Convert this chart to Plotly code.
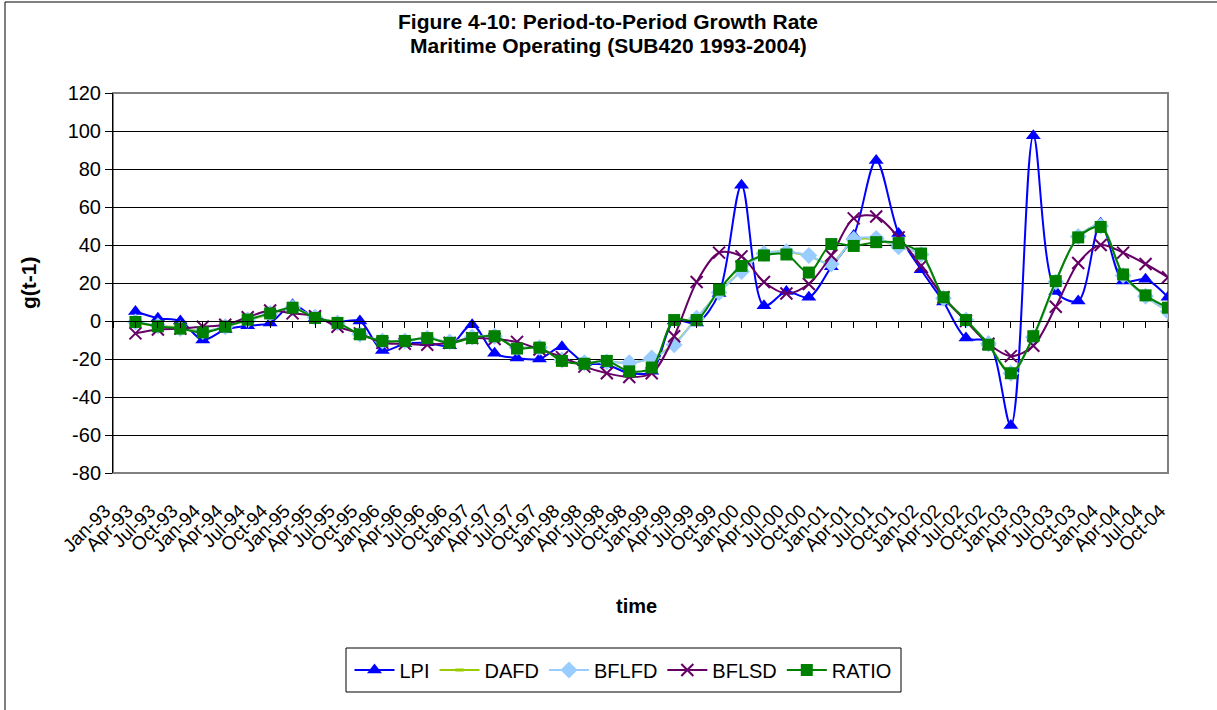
import plotly.graph_objects as go

# Quarter labels on the category axis
quarters = [
    "Jan-93", "Apr-93", "Jul-93", "Oct-93", "Jan-94", "Apr-94", "Jul-94", "Oct-94",
    "Jan-95", "Apr-95", "Jul-95", "Oct-95", "Jan-96", "Apr-96", "Jul-96", "Oct-96",
    "Jan-97", "Apr-97", "Jul-97", "Oct-97", "Jan-98", "Apr-98", "Jul-98", "Oct-98",
    "Jan-99", "Apr-99", "Jul-99", "Oct-99", "Jan-00", "Apr-00", "Jul-00", "Oct-00",
    "Jan-01", "Apr-01", "Jul-01", "Oct-01", "Jan-02", "Apr-02", "Jul-02", "Oct-02",
    "Jan-03", "Apr-03", "Jul-03", "Oct-03", "Jan-04", "Apr-04", "Jul-04", "Oct-04",
]

# Growth rates start one period after the first quarter (Apr-93 .. Oct-04)
lpi = [5, 1.5, 0, -10, -4.5, -2.5, -1, 8.5, 1.5, -0.5, 0, -15.5, -12, -11.5, -13,
       -2, -17, -19.5, -20, -13.5, -22, -23, -27.5, -26.5, 0, -1, 14.5, 71.5, 8,
       15.5, 12.5, 28.5, 45, 84.5, 46, 27, 10, -9, -11, -55, 97.5, 15.5, 10.5,
       51.5, 21, 22, 12.5]
dafd = [-1, -2.5, -3.5, -5.5, -3, 0.5, 3.5, 7, 2, -1, -7, -10.5, -10.5, -9, -11,
        -8.5, -8, -14, -14, -20.5, -22, -21.5, -22, -19.5, -12, 1.5, 15, 26.5,
        35.5, 36.5, 34, 30.5, 42.5, 43, 39, 35, 12, 0.5, -12, -27, -8.5, 20.5,
        44.5, 50, 24, 13, 5]
bflfd = [-0.5, -2.5, -4, -5.5, -3, 0.5, 4, 7, 2, -1, -7, -10.5, -10.5, -9, -11,
         -8.5, -8, -14, -14, -20.5, -22, -21.5, -22, -19.5, -12.5, 1.5, 15, 26,
         35.5, 36.5, 34.5, 30, 43, 43.5, 39, 35, 12, 0.5, -12, -27.5, -8.5, 20.5,
         44.5, 50, 24, 13, 5]
bflsd = [-6.5, -4.5, -4, -3, -2, 2, 5.5, 4, 2.5, -3, -6.5, -11.5, -12, -12.5,
         -11.5, -9, -9.5, -11, -15, -19, -24, -27.5, -29.5, -27.5, -8, 20.5, 36,
         34, 20.5, 14.5, 19.5, 34.5, 54, 55, 44, 29, 12.5, 0, -12, -18.5, -13,
         7.5, 30.5, 40, 36, 30, 23]
ratio = [-0.5, -2.8, -4, -6, -3, 0.7, 4, 7, 1.6, -1, -7, -10.5, -10.5, -9, -11.5,
         -9, -8, -14.5, -14, -21, -22.5, -21, -26.5, -24.5, 0.5, 0.5, 16.5, 29,
         34.5, 35, 25.5, 40.5, 39.5, 41.5, 41, 35.5, 12.5, 0.5, -12.5, -27.5, -8,
         21, 44, 49.5, 24.5, 13.5, 7]

y_ticks = list(range(-80, 121, 20))
y_tick_text = [str(v) for v in y_ticks]  # plain hyphen for negatives

FONT = "Liberation Sans, Arial, sans-serif"
W, H = 1217, 710
L, R, T, B = 113, 49, 93, 237
PW, PH = W - L - R, H - T - B


def px_x(px):
    return (px - L) / PW


def px_y(py):
    return (H - B - py) / PH


pos = list(range(len(quarters)))
data_pos = pos[1:]

series = [
    ("LPI", lpi, "#0000FF", dict(symbol="triangle-up", size=13, color="#0000FF")),
    ("DAFD", dafd, "#99CC00", dict(symbol="line-ew", size=6, color="#99CC00",
                                   line=dict(color="#99CC00", width=3))),
    ("BFLFD", bflfd, "#99CCFF", dict(symbol="diamond", size=13, color="#99CCFF")),
    ("BFLSD", bflsd, "#660066", dict(symbol="x-thin", size=12, color="#660066",
                                     line=dict(color="#660066", width=2))),
    ("RATIO", ratio, "#008000", dict(symbol="square", size=12, color="#008000")),
]

fig = go.Figure()
for name, vals, col, mk in series:
    fig.add_trace(go.Scatter(
        x=data_pos, y=vals, name=name, mode="lines+markers",
        line=dict(color=col, width=2, shape="spline", smoothing=0.9),
        marker=mk,
    ))

# axis line with tick marks along the zero value
fig.add_trace(go.Scatter(x=[0, 47], y=[0, 0], xaxis="x2", mode="lines",
                         line=dict(color="rgba(0,0,0,0)"), showlegend=False,
                         hoverinfo="skip"))

fig.update_layout(
    width=W, height=H,
    margin=dict(l=L, r=R, t=T, b=B),
    paper_bgcolor="white", plot_bgcolor="white",
    font=dict(family=FONT, color="black", size=18),
    showlegend=True,
    legend=dict(
        orientation="h", x=px_x(623), y=px_y(670), xanchor="center",
        yanchor="middle", borderwidth=0, bgcolor="rgba(0,0,0,0)",
        font=dict(size=20, family=FONT), itemwidth=40, tracegroupgap=0,
    ),
    xaxis=dict(
        range=[0, 47], tickmode="array", tickvals=pos, ticktext=quarters,
        tickangle=-45, ticks="", showgrid=False, zeroline=False, showline=False,
        tickfont=dict(size=19, family=FONT), ticklabelstandoff=22,
        ticklabelshift=-8, fixedrange=True,
    ),
    xaxis2=dict(
        range=[0, 47], overlaying="x", anchor="free", position=0.4, side="bottom",
        tickmode="array", tickvals=pos, ticks="outside", ticklen=6, tickwidth=1,
        tickcolor="black", showticklabels=False, showline=True, linecolor="black",
        linewidth=1, showgrid=False, zeroline=False,
    ),
    yaxis=dict(
        range=[-80, 120], tickmode="array", tickvals=y_ticks, ticktext=y_tick_text,
        ticks="outside", ticklen=7, tickcolor="black", showgrid=True,
        gridcolor="black", gridwidth=1, zeroline=False, showline=True,
        linecolor="black", linewidth=1, tickfont=dict(size=20, family=FONT),
    ),
    shapes=[
        # plot area frame
        dict(type="rect", xref="paper", yref="paper", x0=0, x1=1, y0=0, y1=1,
             line=dict(color="#808080", width=2), layer="below"),
        # outer chart border
        dict(type="rect", xref="paper", yref="paper", x0=px_x(5), x1=px_x(1240),
             y0=px_y(730), y1=px_y(2), line=dict(color="black", width=1),
             layer="below"),
        # legend box
        dict(type="rect", xref="paper", yref="paper", x0=px_x(346), x1=px_x(901),
             y0=px_y(692), y1=px_y(648), line=dict(color="black", width=1),
             layer="below"),
    ],
    annotations=[
        dict(text="<b>Figure 4-10: Period-to-Period Growth Rate</b>", xref="paper",
             yref="paper", x=px_x(608), y=px_y(21), showarrow=False,
             xanchor="center", yanchor="middle", font=dict(size=21, family=FONT)),
        dict(text="<b>Maritime Operating (SUB420 1993-2004)</b>", xref="paper",
             yref="paper", x=px_x(608), y=px_y(45), showarrow=False,
             xanchor="center", yanchor="middle", font=dict(size=21, family=FONT)),
        dict(text="<b>g(t-1)</b>", xref="paper", yref="paper", x=px_x(28),
             y=px_y(283), showarrow=False, textangle=-90, xanchor="center",
             yanchor="middle", font=dict(size=21, family=FONT)),
        dict(text="<b>time</b>", xref="paper", yref="paper", x=px_x(636),
             y=px_y(606), showarrow=False, xanchor="center", yanchor="middle",
             font=dict(size=20, family=FONT)),
    ],
)

fig.write_html("out.html")
